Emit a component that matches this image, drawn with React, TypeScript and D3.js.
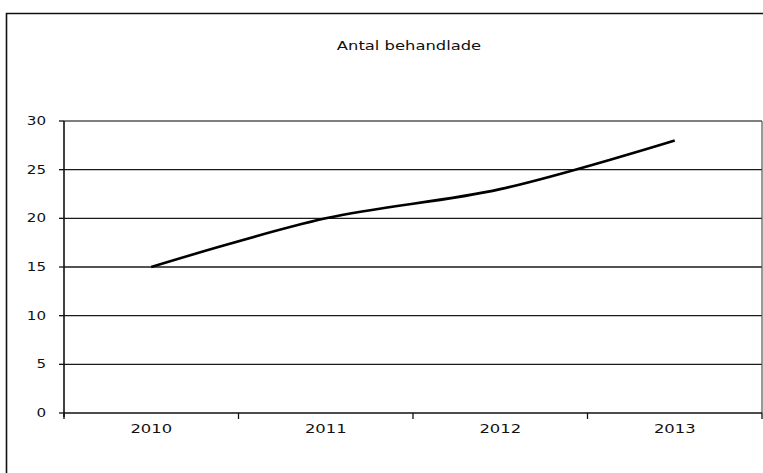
import * as d3 from "d3";
import React, { useEffect, useRef } from "react";

const years = ["2010", "2011", "2012", "2013"];
const treated = [15, 20, 23, 28];
const yTicks = [0, 5, 10, 15, 20, 25, 30];
const chartTitle = "Antal behandlade";

const width = 763;
const height = 473;
// the scan is stretched sideways, so text is too
const stretch = 1.26;

const App: React.FC = () => {
  const ref = useRef<SVGSVGElement | null>(null);

  useEffect(() => {
    const svg = d3.select(ref.current);
    svg.selectAll("*").remove();

    const left = 64;
    const right = 762;
    const top = 121;
    const bottom = 413;

    const x = d3.scaleBand<string>().domain(years).range([left, right]);
    const y = d3.scaleLinear().domain([0, 30]).range([bottom, top]);

    svg.append("rect").attr("width", width).attr("height", height).attr("fill", "#fff");

    // outer frame (only left and top are inside the crop)
    svg
      .append("path")
      .attr("d", `M6.5,${height} V13.5 H${width}`)
      .attr("fill", "none")
      .attr("stroke", "#111")
      .attr("stroke-width", 1.6);

    svg
      .append("text")
      .text(chartTitle)
      .attr("transform", `translate(409,50) scale(${stretch},1)`)
      .attr("text-anchor", "middle")
      .attr("font-family", "DejaVu Sans")
      .attr("font-size", "13px")
      .attr("fill", "#111");

    // gridlines
    svg
      .append("g")
      .selectAll("line")
      .data(yTicks.filter((t) => t > 0))
      .join("line")
      .attr("x1", left)
      .attr("x2", right)
      .attr("y1", (d) => y(d))
      .attr("y2", (d) => y(d))
      .attr("stroke", (d) => (d === 30 ? "#555" : "#1a1a1a"))
      .attr("stroke-width", 1.3);

    // right edge of plot area
    svg
      .append("line")
      .attr("x1", right)
      .attr("x2", right)
      .attr("y1", top)
      .attr("y2", bottom)
      .attr("stroke", "#555")
      .attr("stroke-width", 1.2);

    // y axis
    const yAxis = svg.append("g");
    yAxis
      .append("line")
      .attr("x1", left)
      .attr("x2", left)
      .attr("y1", top)
      .attr("y2", bottom + 4)
      .attr("stroke", "#111")
      .attr("stroke-width", 1.6);
    yAxis
      .selectAll("line.tick")
      .data(yTicks)
      .join("line")
      .attr("class", "tick")
      .attr("x1", left - 5)
      .attr("x2", left)
      .attr("y1", (d) => y(d))
      .attr("y2", (d) => y(d))
      .attr("stroke", "#111")
      .attr("stroke-width", 1.3);
    yAxis
      .selectAll("text")
      .data(yTicks)
      .join("text")
      .text((d) => String(d))
      .attr("transform", (d) => `translate(46,${y(d) + 4}) scale(${stretch},1)`)
      .attr("text-anchor", "end")
      .attr("font-family", "DejaVu Sans")
      .attr("font-size", "12px")
      .attr("fill", "#111");

    // x axis
    const xAxis = svg.append("g");
    xAxis
      .append("line")
      .attr("x1", left)
      .attr("x2", right)
      .attr("y1", bottom)
      .attr("y2", bottom)
      .attr("stroke", "#111")
      .attr("stroke-width", 1.6);
    const bounds = years.map((d) => x(d) as number).concat([right]);
    xAxis
      .selectAll("line.tick")
      .data(bounds)
      .join("line")
      .attr("class", "tick")
      .attr("x1", (d) => d)
      .attr("x2", (d) => d)
      .attr("y1", bottom)
      .attr("y2", bottom + 6)
      .attr("stroke", "#111")
      .attr("stroke-width", 1.3);
    xAxis
      .selectAll("text")
      .data(years)
      .join("text")
      .text((d) => d)
      .attr(
        "transform",
        (d) => `translate(${(x(d) as number) + x.bandwidth() / 2},433) scale(${stretch},1)`,
      )
      .attr("text-anchor", "middle")
      .attr("font-family", "DejaVu Sans")
      .attr("font-size", "13px")
      .attr("fill", "#111");

    const line = d3
      .line<number>()
      .x((_, i) => (x(years[i]) as number) + x.bandwidth() / 2)
      .y((d) => y(d))
      .curve(d3.curveCatmullRom);

    svg
      .append("path")
      .datum(treated)
      .attr("d", line)
      .attr("fill", "none")
      .attr("stroke", "#000")
      .attr("stroke-width", 2.6);
  }, []);

  return (
    <svg
      ref={ref}
      width={width}
      height={height}
      style={{ position: "absolute", left: 0, top: 0 }}
    />
  );
};

export default App;
